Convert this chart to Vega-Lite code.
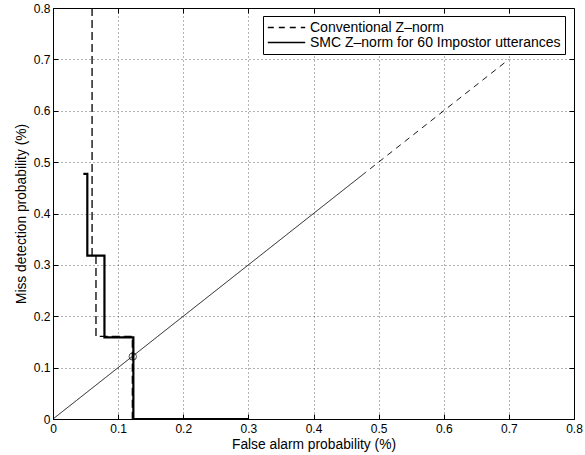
{
  "$schema": "https://vega.github.io/schema/vega-lite/v6.json",
  "autosize": {"type": "none"},
  "width": 521,
  "height": 411,
  "padding": {"left": 53, "top": 8, "right": 11, "bottom": 36},
  "background": "white",
  "config": {
    "font": "Liberation Sans",
    "view": {"stroke": "black", "strokeWidth": 1},
    "axis": {
      "labelFont": "Liberation Sans",
      "titleFont": "Liberation Sans",
      "labelFontSize": 12,
      "titleFontSize": 13.8,
      "titleFontWeight": "normal",
      "labelColor": "black",
      "titleColor": "black",
      "domainColor": "black",
      "tickColor": "black"
    }
  },
  "data": {
    "values": [
      {"series": "Conventional Z–norm", "part": "diag", "i": 0, "x": 0.487, "y": 0.487},
      {"series": "Conventional Z–norm", "part": "diag", "i": 1, "x": 0.70, "y": 0.70},
      {"series": "SMC Z–norm for 60 Impostor utterances", "part": "diag", "i": 0, "x": 0.0, "y": 0.0},
      {"series": "SMC Z–norm for 60 Impostor utterances", "part": "diag", "i": 1, "x": 0.481, "y": 0.481},
      {"series": "Conventional Z–norm", "part": "step", "i": 0, "x": 0.060, "y": 0.8},
      {"series": "Conventional Z–norm", "part": "step", "i": 1, "x": 0.060, "y": 0.318},
      {"series": "Conventional Z–norm", "part": "step", "i": 2, "x": 0.066, "y": 0.318},
      {"series": "Conventional Z–norm", "part": "step", "i": 3, "x": 0.066, "y": 0.161},
      {"series": "Conventional Z–norm", "part": "step", "i": 4, "x": 0.1218, "y": 0.161},
      {"series": "Conventional Z–norm", "part": "step", "i": 5, "x": 0.1218, "y": 0.0},
      {"series": "Conventional Z–norm", "part": "step", "i": 6, "x": 0.3, "y": 0.0},
      {"series": "SMC Z–norm for 60 Impostor utterances", "part": "step", "i": 0, "x": 0.0466, "y": 0.477},
      {"series": "SMC Z–norm for 60 Impostor utterances", "part": "step", "i": 1, "x": 0.0527, "y": 0.477},
      {"series": "SMC Z–norm for 60 Impostor utterances", "part": "step", "i": 2, "x": 0.0527, "y": 0.318},
      {"series": "SMC Z–norm for 60 Impostor utterances", "part": "step", "i": 3, "x": 0.079, "y": 0.318},
      {"series": "SMC Z–norm for 60 Impostor utterances", "part": "step", "i": 4, "x": 0.079, "y": 0.159},
      {"series": "SMC Z–norm for 60 Impostor utterances", "part": "step", "i": 5, "x": 0.1234, "y": 0.159},
      {"series": "SMC Z–norm for 60 Impostor utterances", "part": "step", "i": 6, "x": 0.1234, "y": 0.0},
      {"series": "SMC Z–norm for 60 Impostor utterances", "part": "step", "i": 7, "x": 0.3, "y": 0.0},
      {"series": "SMC Z–norm for 60 Impostor utterances", "part": "eer", "i": 0, "x": 0.1225, "y": 0.1215}
    ]
  },
  "resolve": {"axis": {"x": "independent", "y": "independent"}},
  "layer": [
    {
      "transform": [{"filter": "datum.part === 'diag'"}],
      "mark": {"type": "line", "color": "black", "strokeWidth": 0.9, "clip": true},
      "encoding": {
        "x": {"field": "x", "type": "quantitative", "scale": {"domain": [0, 0.8], "nice": false, "zero": false},
          "axis": {"orient": "bottom", "values": [0, 0.1, 0.2, 0.3, 0.4, 0.5, 0.6, 0.7, 0.8], "format": "~g",
            "title": "False alarm probability (%)", "ticks": false, "tickSize": 0, "labelPadding": 4, "titlePadding": 3,
            "grid": true, "gridColor": "black", "gridDash": [1, 3], "gridOpacity": 0.6, "labelFlush": false}},
        "y": {"field": "y", "type": "quantitative", "scale": {"domain": [0, 0.8], "nice": false, "zero": false},
          "axis": {"orient": "left", "values": [0, 0.1, 0.2, 0.3, 0.4, 0.5, 0.6, 0.7, 0.8], "format": "~g",
            "title": "Miss detection probability (%)", "ticks": false, "tickSize": 0, "labelPadding": 3, "titlePadding": 5,
            "grid": true, "gridColor": "black", "gridDash": [1, 3], "gridOpacity": 0.6, "labelFlush": false}},
        "detail": {"field": "series"},
        "order": {"field": "i"},
        "strokeDash": {"field": "series", "type": "nominal",
          "scale": {"domain": ["Conventional Z–norm", "SMC Z–norm for 60 Impostor utterances"], "range": [[6, 5], [1, 0]]},
          "legend": {"title": null, "orient": "none", "legendX": 210, "legendY": 8,
            "symbolType": "stroke", "symbolSize": 1400, "symbolStrokeWidth": 1.3, "symbolStrokeColor": "black",
            "labelFont": "Liberation Sans", "labelFontSize": 14, "labelColor": "black", "labelOffset": 4,
            "labelLimit": 400, "rowPadding": 0, "clipHeight": 15, "padding": 4, "strokeColor": "black", "fillColor": "white"}}
      }
    },
    {
      "transform": [{"filter": "datum.part === 'step' && datum.series === 'Conventional Z–norm'"}],
      "mark": {"type": "line", "color": "black", "strokeWidth": 1.3, "strokeDash": [8, 4], "clip": true},
      "encoding": {
        "x": {"field": "x", "type": "quantitative",
          "axis": {"orient": "top", "offset": -411, "values": [0.1, 0.2, 0.3, 0.4, 0.5, 0.6, 0.7], "labels": false, "title": null, "domain": false, "ticks": true, "tickSize": 5, "tickWidth": 1, "grid": false}},
        "y": {"field": "y", "type": "quantitative",
          "axis": {"orient": "right", "offset": -521, "values": [0.1, 0.2, 0.3, 0.4, 0.5, 0.6, 0.7], "labels": false, "title": null, "domain": false, "ticks": true, "tickSize": 5, "tickWidth": 1, "grid": false}},
        "order": {"field": "i"}
      }
    },
    {
      "transform": [{"filter": "datum.part === 'step' && datum.series !== 'Conventional Z–norm'"}],
      "mark": {"type": "line", "color": "black", "strokeWidth": 2.2, "clip": true},
      "encoding": {
        "x": {"field": "x", "type": "quantitative",
          "axis": {"orient": "bottom", "offset": -411, "values": [0.1, 0.2, 0.3, 0.4, 0.5, 0.6, 0.7], "labels": false, "title": null, "domain": false, "ticks": true, "tickSize": 5, "tickWidth": 1, "grid": false}},
        "y": {"field": "y", "type": "quantitative",
          "axis": {"orient": "left", "offset": -521, "values": [0.1, 0.2, 0.3, 0.4, 0.5, 0.6, 0.7], "labels": false, "title": null, "domain": false, "ticks": true, "tickSize": 5, "tickWidth": 1, "grid": false}},
        "order": {"field": "i"}
      }
    },
    {
      "transform": [{"filter": "datum.part === 'eer'"}],
      "mark": {"type": "point", "shape": "circle", "filled": false, "color": "black", "size": 55, "strokeWidth": 1},
      "encoding": {
        "x": {"field": "x", "type": "quantitative", "axis": null},
        "y": {"field": "y", "type": "quantitative", "axis": null}
      }
    }
  ]
}
